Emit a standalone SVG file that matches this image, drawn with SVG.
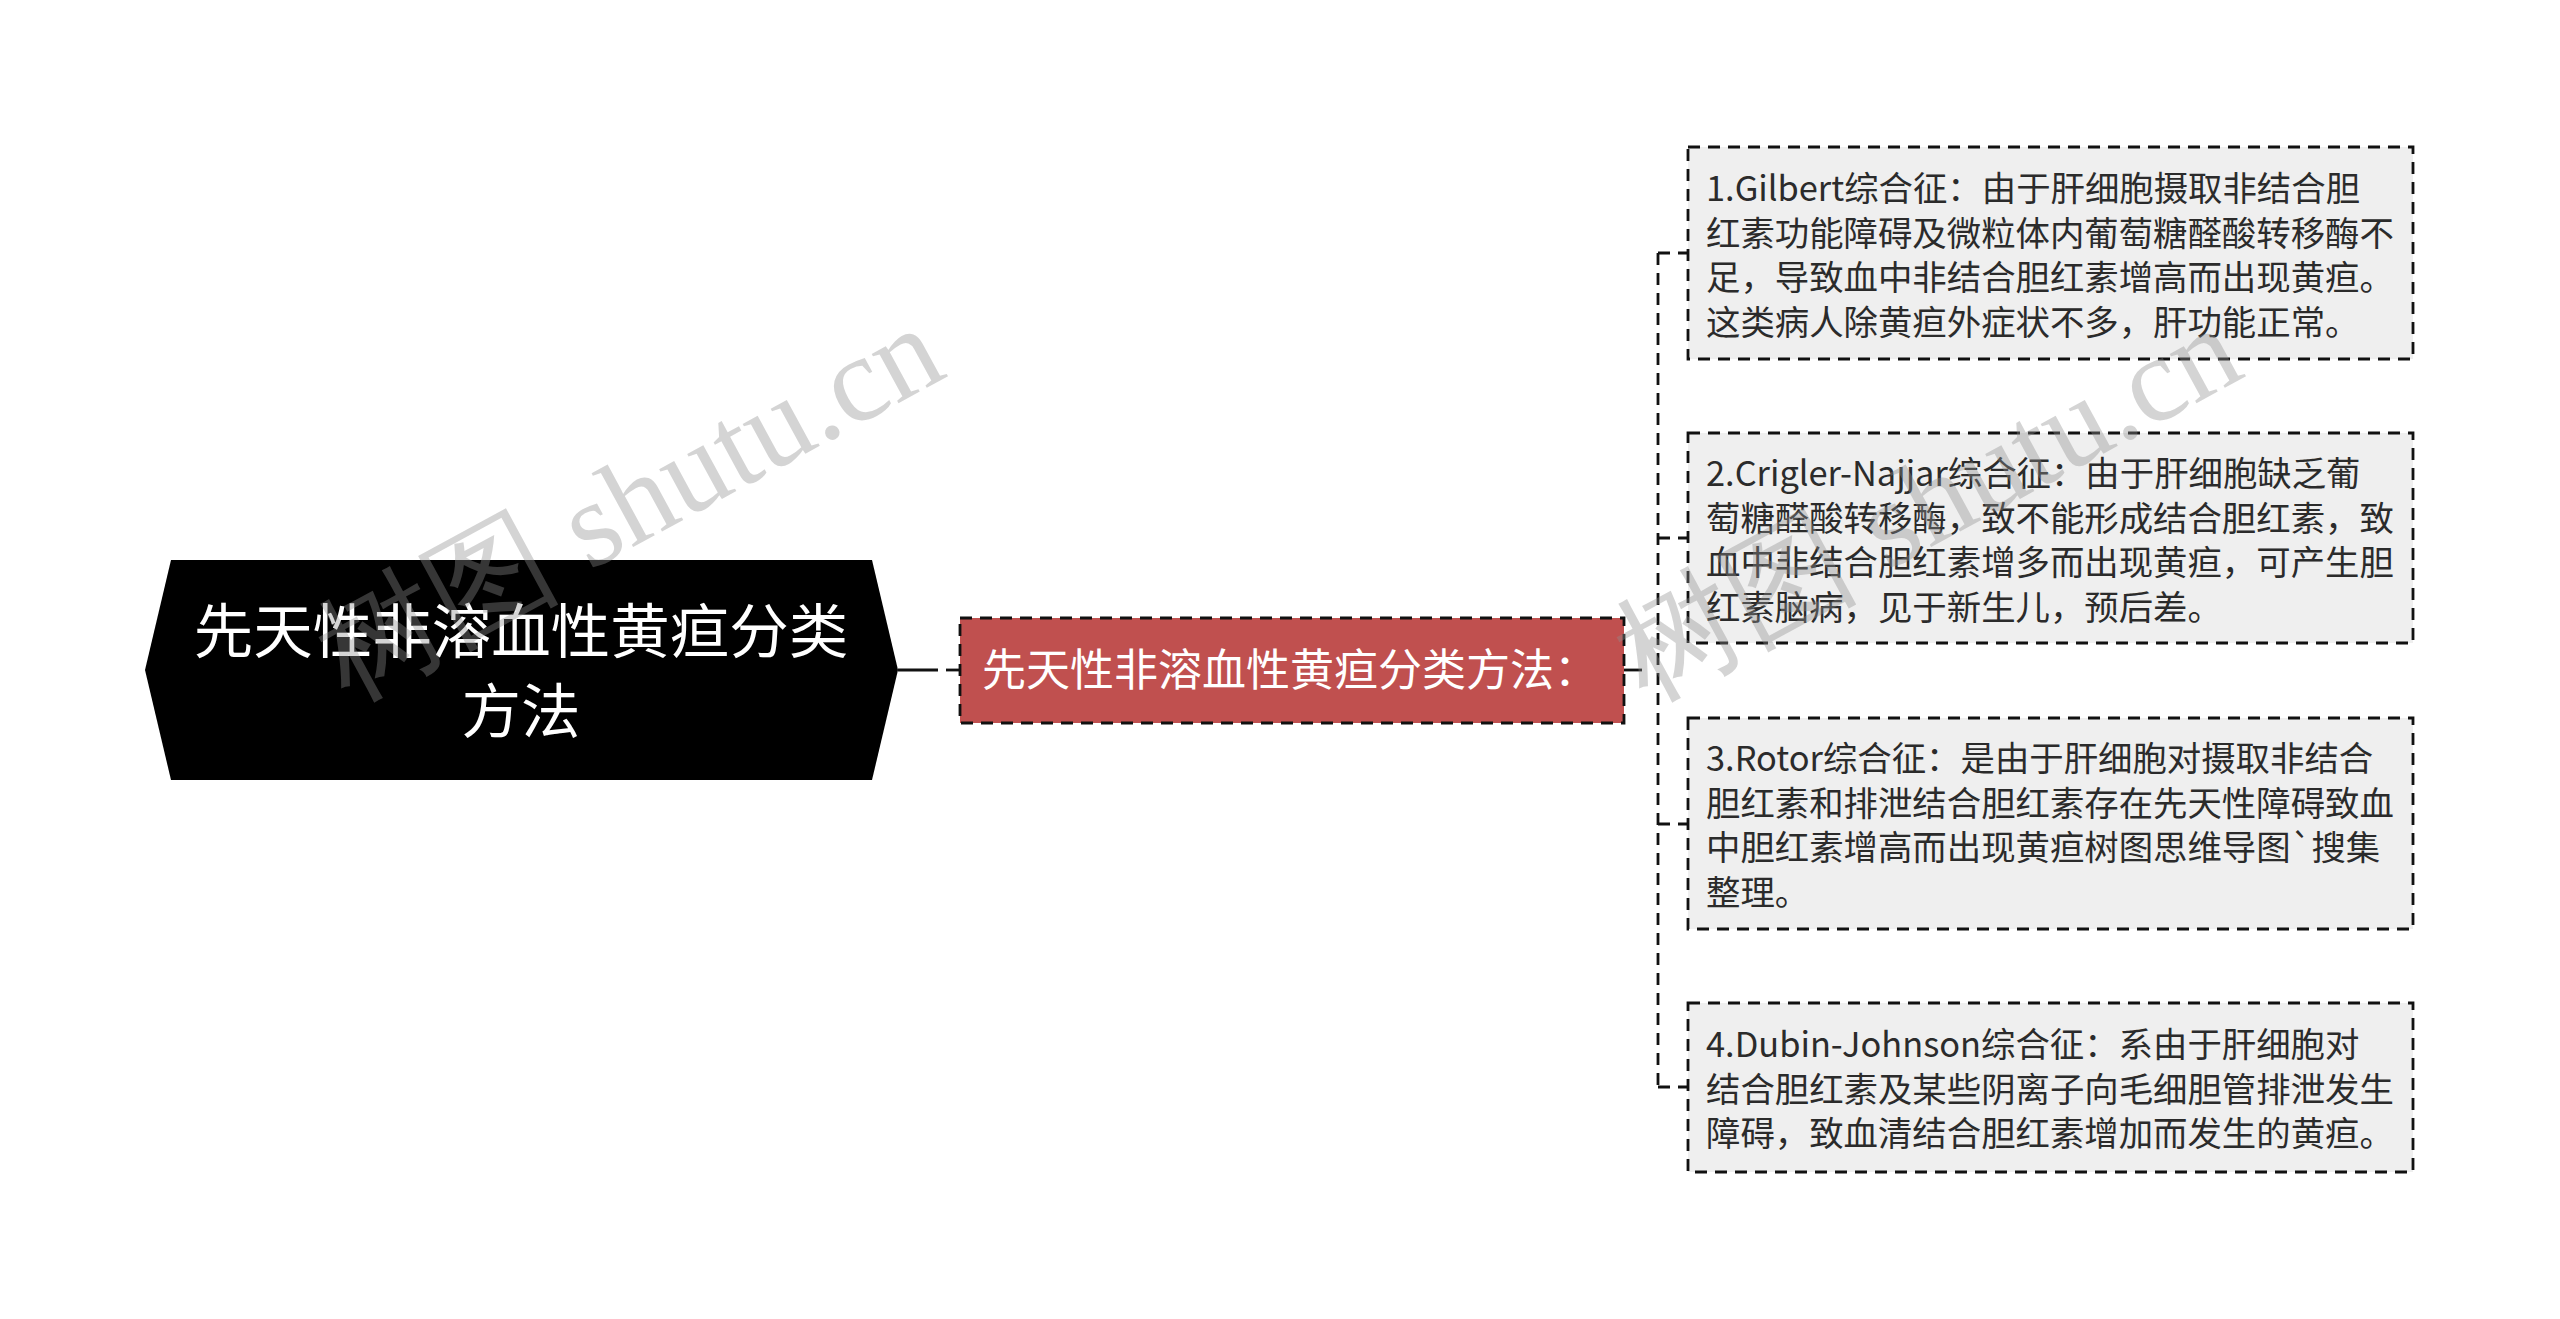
<svg xmlns="http://www.w3.org/2000/svg" width="2560" height="1319" viewBox="0 0 2560 1319">
<style>
.cjk{font-family:"Noto Sans CJK SC","Noto Sans",sans-serif}
.leaf rect{fill:#EFEFEF;stroke:#111;stroke-width:2.8;stroke-dasharray:12 8}
.leaf text{font-size:34.4px;fill:#2b2b2b}
.conn{fill:none;stroke:#111;stroke-width:2.8}
.dash{stroke-dasharray:12 8}
.wm{font-family:"Liberation Serif",serif;font-size:122px;fill:#8f8f8f;fill-opacity:0.38}
</style>
<rect width="2560" height="1319" fill="#fff"/>
<g id="connectors">
<path class="conn" d="M898,670 H938"/>
<path class="conn" d="M946,670 H960"/>
<path class="conn" d="M1624,670 H1642"/>
<path class="conn dash" d="M1658,253 V1087"/>
<path class="conn dash" d="M1658,253 H1688 M1658,538 H1688 M1658,824 H1688 M1658,1087 H1688"/>
</g>
<g id="root">
<polygon points="171,560 872,560 898,670 872,780 171,780 145,670" fill="#000"/>
<text class="cjk" x="521" y="653" font-size="59.5" fill="#fff" text-anchor="middle">先天性非溶血性黄疸分类</text>
<text class="cjk" x="521" y="733" font-size="59.5" fill="#fff" text-anchor="middle">方法</text>
</g>
<g id="middle">
<rect x="960" y="618" width="664" height="105" fill="#C0504F" stroke="#111" stroke-width="2.8" stroke-dasharray="12 8"/>
<text class="cjk" x="982" y="686" font-size="44" fill="#fff">先天性非溶血性黄疸分类方法：</text>
</g>
<g id="n1" class="leaf cjk">
<rect x="1688" y="147" width="725" height="212"/>
<text x="1706"><tspan x="1706" y="201">1.Gilbert综合征：由于肝细胞摄取非结合胆</tspan><tspan x="1706" y="245.5">红素功能障碍及微粒体内葡萄糖醛酸转移酶不</tspan><tspan x="1706" y="290">足，导致血中非结合胆红素增高而出现黄疸。</tspan><tspan x="1706" y="334.5">这类病人除黄疸外症状不多，肝功能正常。</tspan></text>
</g>
<g id="n2" class="leaf cjk">
<rect x="1688" y="433" width="725" height="210"/>
<text x="1706"><tspan x="1706" y="486">2.Crigler-Najjar综合征：由于肝细胞缺乏葡</tspan><tspan x="1706" y="530.5">萄糖醛酸转移酶，致不能形成结合胆红素，致</tspan><tspan x="1706" y="575">血中非结合胆红素增多而出现黄疸，可产生胆</tspan><tspan x="1706" y="619.5">红素脑病，见于新生儿，预后差。</tspan></text>
</g>
<g id="n3" class="leaf cjk">
<rect x="1688" y="718" width="725" height="211"/>
<text x="1706"><tspan x="1706" y="771">3.Rotor综合征：是由于肝细胞对摄取非结合</tspan><tspan x="1706" y="815.5">胆红素和排泄结合胆红素存在先天性障碍致血</tspan><tspan x="1706" y="860">中胆红素增高而出现黄疸树图思维导图`搜集</tspan><tspan x="1706" y="904.5">整理。</tspan></text>
</g>
<g id="n4" class="leaf cjk">
<rect x="1688" y="1003" width="725" height="169"/>
<text x="1706"><tspan x="1706" y="1057">4.Dubin-Johnson综合征：系由于肝细胞对</tspan><tspan x="1706" y="1101.5">结合胆红素及某些阴离子向毛细胆管排泄发生</tspan><tspan x="1706" y="1146">障碍，致血清结合胆红素增加而发生的黄疸。</tspan></text>
</g>
<g id="watermarks">
<text class="wm" transform="translate(348,702) rotate(-28.5)">树图 shutu.cn</text>
<text class="wm" transform="translate(1646,702) rotate(-28.5)">树图 shutu.cn</text>
</g>
</svg>
